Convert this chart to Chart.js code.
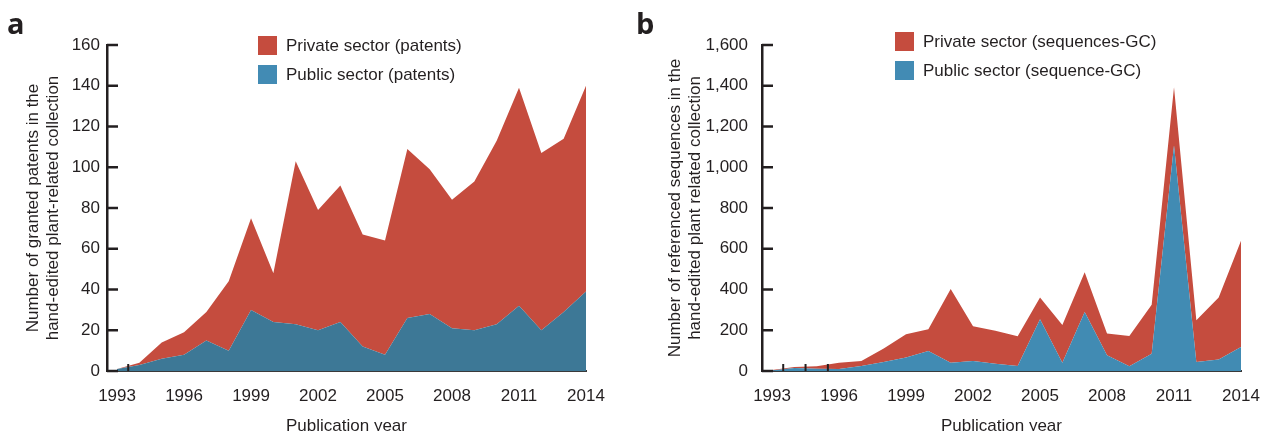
<!DOCTYPE html>
<html>
<head>
<meta charset="utf-8">
<script src="https://cdn.jsdelivr.net/npm/chart.js@4/dist/chart.umd.min.js"></script>
<style>
  html, body { margin: 0; padding: 0; background: #fff; }
  body { width: 1267px; height: 431px; overflow: hidden; position: relative; font-family: "Liberation Sans", Arial, sans-serif; color: #231f20; }
  .panel { position: absolute; top: 0; height: 431px; overflow: hidden; }
  .letter { position: absolute; font-family: "Open Sans", "DejaVu Sans", sans-serif; font-weight: bold; font-size: 29px; line-height: 1; }
  .legend { position: absolute; font-size: 17px; }
  .legend div { position: relative; height: 29px; line-height: 19px; padding-left: 28px; white-space: nowrap; }
  .legend span { position: absolute; left: 0; top: 0; width: 19px; height: 19px; }
</style>
</head>
<body>

<div class="panel" style="left:0;width:620px;"><canvas id="chartA" width="620" height="437"></canvas></div>
<div class="panel" style="left:620px;width:647px;"><canvas id="chartB" width="647" height="437"></canvas></div>

<div class="letter" style="left:7px;top:8px;">a</div>
<div class="letter" style="left:636px;top:8px;">b</div>

<div class="legend" style="left:258px;top:36px;">
  <div><span style="background:#c54c3e"></span>Private sector (patents)</div>
  <div><span style="background:#428bb4"></span>Public sector (patents)</div>
</div>
<div class="legend" style="left:895px;top:32px;">
  <div><span style="background:#c54c3e"></span>Private sector (sequences-GC)</div>
  <div><span style="background:#428bb4"></span>Public sector (sequence-GC)</div>
</div>

<script>
// data
const years = [1993, 1994, 1995, 1996, 1997, 1998, 1999, 2000, 2001, 2002, 2003,
               2004, 2005, 2006, 2007, 2008, 2009, 2010, 2011, 2012, 2013, 2014];
const xTickYears = [1993, 1996, 1999, 2002, 2005, 2008, 2011, 2014];

// panel a: granted patents
const patentsPublic  = [1, 3, 6, 8, 15, 10, 30, 24, 23, 20, 24, 12, 8, 26, 28, 21, 20, 23, 32, 20, 29, 39];
const patentsPrivate = [0, 1, 8, 11, 14, 34, 45, 24, 80, 59, 67, 55, 56, 83, 71, 63, 73, 90, 107, 87, 85, 101];

// panel b: referenced sequences
const seqPublic  = [3, 15, 11, 10, 25, 44, 66, 98, 41, 49, 36, 25, 254, 41, 290, 77, 23, 85, 1107, 44, 57, 118];
const seqPrivate = [2, 5, 12, 31, 24, 67, 114, 107, 361, 171, 161, 145, 107, 185, 195, 107, 149, 240, 286, 205, 304, 521];

// little stray tick marks sitting on the baseline
const strayA = [1993.5];
const strayB = [1993.5, 1994.5, 1995.5];

const RED = '#c54c3e';
const AXIS = '#231f20';
const FONT = { family: '"Liberation Sans", Arial, sans-serif', size: 17 };

function pts(vals) {
    return years.map((yr, i) => ({ x: yr, y: vals[i] }));
}

// y ticks point into the plot, like the original
const inwardTicks = {
    id: 'inwardTicks',
    afterDatasetsDraw(chart, args, opts) {
        const { ctx, chartArea, scales: { x, y } } = chart;
        ctx.save();
        ctx.strokeStyle = AXIS;
        ctx.lineWidth = 2.5;
        y.ticks.forEach(t => {
            const py = y.getPixelForValue(t.value);
            ctx.beginPath();
            ctx.moveTo(chartArea.left, py);
            ctx.lineTo(chartArea.left + 11, py);
            ctx.stroke();
        });
        ctx.lineWidth = 2;
        (opts.stray || []).forEach(yr => {
            const px = x.getPixelForValue(yr);
            ctx.beginPath();
            ctx.moveTo(px, chartArea.bottom);
            ctx.lineTo(px, chartArea.bottom - 7);
            ctx.stroke();
        });
        ctx.restore();
    }
};

function makeChart(id, o) {
    return new Chart(document.getElementById(id).getContext('2d'), {
        type: 'line',
        data: {
            datasets: [
                { label: o.labels[1], data: pts(o.pub), fill: 'origin', backgroundColor: o.blue,
                  borderWidth: 0, pointRadius: 0, tension: 0 },
                { label: o.labels[0], data: pts(o.priv), fill: '-1', backgroundColor: RED,
                  borderWidth: 0, pointRadius: 0, tension: 0 }
            ]
        },
        options: {
            responsive: false,
            animation: false,
            layout: { padding: { top: o.top, right: o.right, left: 0, bottom: 0 } },
            plugins: {
                legend: { display: false },
                tooltip: { enabled: false },
                inwardTicks: { stray: o.stray }
            },
            scales: {
                x: {
                    type: 'linear',
                    min: 1992.55,
                    max: 2014,
                    z: 1,
                    afterBuildTicks: s => { s.ticks = xTickYears.map(v => ({ value: v })); },
                    afterFit: s => { s.height = 66; s.paddingLeft = 0; s.paddingRight = 0; },
                    ticks: { callback: v => String(v), font: FONT, color: AXIS, padding: 15, maxRotation: 0, autoSkip: false },
                    grid: { display: false, drawTicks: false },
                    border: { display: true, color: '#3a3a3a', width: 2 },
                    title: { display: true, text: 'Publication year', font: FONT, color: AXIS, padding: { top: 0, bottom: 0 } }
                },
                y: {
                    stacked: true,
                    min: 0,
                    max: o.max,
                    z: 1,
                    afterFit: s => { s.width = o.axisX; },
                    ticks: { stepSize: o.step, font: FONT, color: AXIS, padding: o.tickPad },
                    grid: { display: false, drawTicks: false },
                    border: { display: true, color: AXIS, width: 2.5 },
                    title: { display: true, text: o.title, font: Object.assign({ lineHeight: 1.2 }, FONT), color: AXIS,
                             padding: { top: o.titlePad, bottom: 0 } }
                }
            }
        },
        plugins: [inwardTicks]
    });
}

makeChart('chartA', {
    pub: patentsPublic, priv: patentsPrivate, blue: '#3d7896',
    labels: ['Private sector (patents)', 'Public sector (patents)'],
    title: ['Number of granted patents in the', 'hand-edited plant-related collection'],
    max: 160, step: 20, axisX: 107, tickPad: 7, titlePad: 23, top: 45, right: 34, stray: strayA
});

makeChart('chartB', {
    pub: seqPublic, priv: seqPrivate, blue: '#418bb3',
    labels: ['Private sector (sequences-GC)', 'Public sector (sequence-GC)'],
    title: ['Number of referenced sequences in the', 'hand-edited plant related collection'],
    max: 1600, step: 200, axisX: 142, tickPad: 14, titlePad: 45, top: 45, right: 26, stray: strayB
});
</script>
</body>
</html>
